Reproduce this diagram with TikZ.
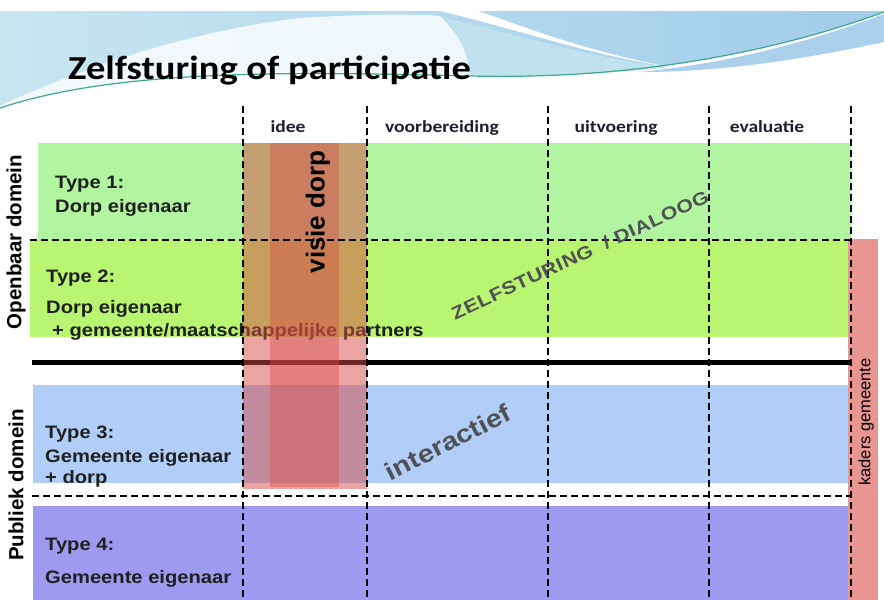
\documentclass[tikz,border=0pt]{standalone}
\usepackage{fontspec}
\newfontfamily\rowfont[FakeStretch=1.12]{Liberation Sans}
\newfontfamily\rotfont{Liberation Sans}
\newfontfamily\calfont[FakeStretch=1.15]{Carlito}
\newfontfamily\diagfont[FakeStretch=1.18,LetterSpace=3]{Liberation Sans}
\newfontfamily\interfont[FakeStretch=1.15]{Liberation Sans}
\definecolor{rowone}{RGB}{178,245,160}
\definecolor{rowtwo}{RGB}{184,245,112}
\definecolor{rowthree}{RGB}{176,206,248}
\definecolor{rowfour}{RGB}{158,154,240}
\definecolor{kaders}{RGB}{232,150,146}
\definecolor{overlayred}{RGB}{215,75,70}
\definecolor{textgray}{RGB}{80,80,85}
\definecolor{headcol}{RGB}{30,30,50}
\definecolor{bannerL}{RGB}{200,230,242}
\definecolor{bannerR}{RGB}{160,204,234}
\definecolor{bannerC}{RGB}{170,208,235}
\definecolor{bannerLight}{RGB}{192,226,238}
\definecolor{tealline}{RGB}{60,170,140}
\begin{document}
\begin{tikzpicture}[x=1pt,y=-1pt,
  rowtext/.style={anchor=base west, inner sep=0pt, font=\rowfont\bfseries\fontsize{18}{20}\selectfont, text=black!88},
  header/.style={anchor=base, inner sep=0pt, font=\calfont\bfseries\fontsize{17}{19}\selectfont, text=headcol},
  gridline/.style={draw=black, line width=1.6pt, dash pattern=on 7pt off 4pt},
  domainlabel/.style={rotate=90, inner sep=0pt, font=\rotfont\bfseries\fontsize{20.5}{22}\selectfont},
  diaglabel/.style={text=textgray, inner sep=0pt}
]
\useasboundingbox (0,0) rectangle (884,600);
\fill[white] (0,0) rectangle (884,600);

% banner
\shade[left color=bannerL, right color=bannerR] (0,11) -- (884,11) -- (884,12) .. controls (780,50) and (640,80) .. (470,76) .. controls (300,72) and (120,68) .. (0,108) -- cycle;
\fill[white, opacity=0.8] (0,106) .. controls (100,60) and (200,30) .. (300,18) .. controls (360,14) and (420,14) .. (440,16) .. controls (465,40) and (470,60) .. (470,76) .. controls (300,72) and (120,68) .. (0,108) -- cycle;
\fill[bannerLight] (445,18) .. controls (520,35) and (590,58) .. (670,67) .. controls (600,75) and (530,77) .. (470,76) .. controls (468,55) and (460,35) .. (445,18) -- cycle;
\fill[white] (440,11) .. controls (520,30) and (590,55) .. (670,67) .. controls (580,50) and (520,25) .. (478,11) -- cycle;
\fill[bannerC] (640,72) .. controls (740,62) and (820,38) .. (884,14) -- (884,42) .. controls (800,60) and (720,72) .. (640,72) -- cycle;
\draw[tealline, line width=1.2pt] (0,108) .. controls (120,68) and (300,72) .. (470,76) .. controls (640,80) and (780,50) .. (884,12);

% title
\node[anchor=base west, inner sep=0pt, font=\calfont\bfseries\fontsize{33.5}{36}\selectfont] (title) at (68,79) {Zelfsturing of participatie};

% column headers
\node[header] (hidee) at (288,132) {idee};
\node[header] (hvoor) at (442,132) {voorbereiding};
\node[header] (huit) at (616,132) {uitvoering};
\node[header] (heval) at (767,132) {evaluatie};

% rows
\fill[rowone] (38,143) rectangle (851,240);
\fill[rowtwo] (30,240) rectangle (848,337);
\fill[rowthree] (33,385) rectangle (848,483);
\fill[rowfour] (33,506) rectangle (848,600);
\fill[kaders] (848,239) rectangle (878,600);

% row texts
\node[rowtext] (t1a) at (55,188) {Type 1:};
\node[rowtext] (t1b) at (55,212) {Dorp eigenaar};
\node[rowtext] (t2a) at (46,282) {Type 2:};
\node[rowtext] (t2b) at (46,313) {Dorp eigenaar};
\node[rowtext] (t2c) at (52,336) {+ gemeente/maatschappelijke partners};
\node[rowtext] (t3a) at (45,438) {Type 3:};
\node[rowtext] (t3b) at (45,462) {Gemeente eigenaar};
\node[rowtext] (t3c) at (45,483) {+ dorp};
\node[rowtext] (t4a) at (45,550) {Type 4:};
\node[rowtext] (t4b) at (45,583) {Gemeente eigenaar};

% thick separator
\draw[line width=5pt] (32,362) -- (851,362);

% visie dorp overlay
\fill[overlayred, opacity=0.5] (243,143) rectangle (367,489);
\fill[overlayred, opacity=0.4] (270,143) rectangle (339,487);

% dashed grid
\foreach \gx in {243,367,548,709,851} {
  \draw[gridline] (\gx,106) -- (\gx,600);
}
\draw[gridline] (30,240) -- (851,240);
\draw[gridline] (32,496) -- (851,496);

% labels
\node[domainlabel] (open) at (16,242) {Openbaar domein};
\node[domainlabel] (pub) at (16,485) {Publiek domein};
\node[rotate=90, inner sep=0pt, font=\rotfont\bfseries\fontsize{26}{28}\selectfont] (visie) at (318,212) {visie dorp};
\node[diaglabel, rotate=25, font=\diagfont\bfseries\fontsize{18}{20}\selectfont] (zelf) at (580,255) {ZELFSTURING~~/ DIALOOG};
\node[diaglabel, rotate=27, font=\interfont\bfseries\fontsize{25}{27}\selectfont] (inter) at (448,442) {interactief};
\node[rotate=90, inner sep=0pt, font=\rotfont\fontsize{16.5}{18}\selectfont] (kad) at (866,422) {kaders gemeente};
\end{tikzpicture}
\end{document}
